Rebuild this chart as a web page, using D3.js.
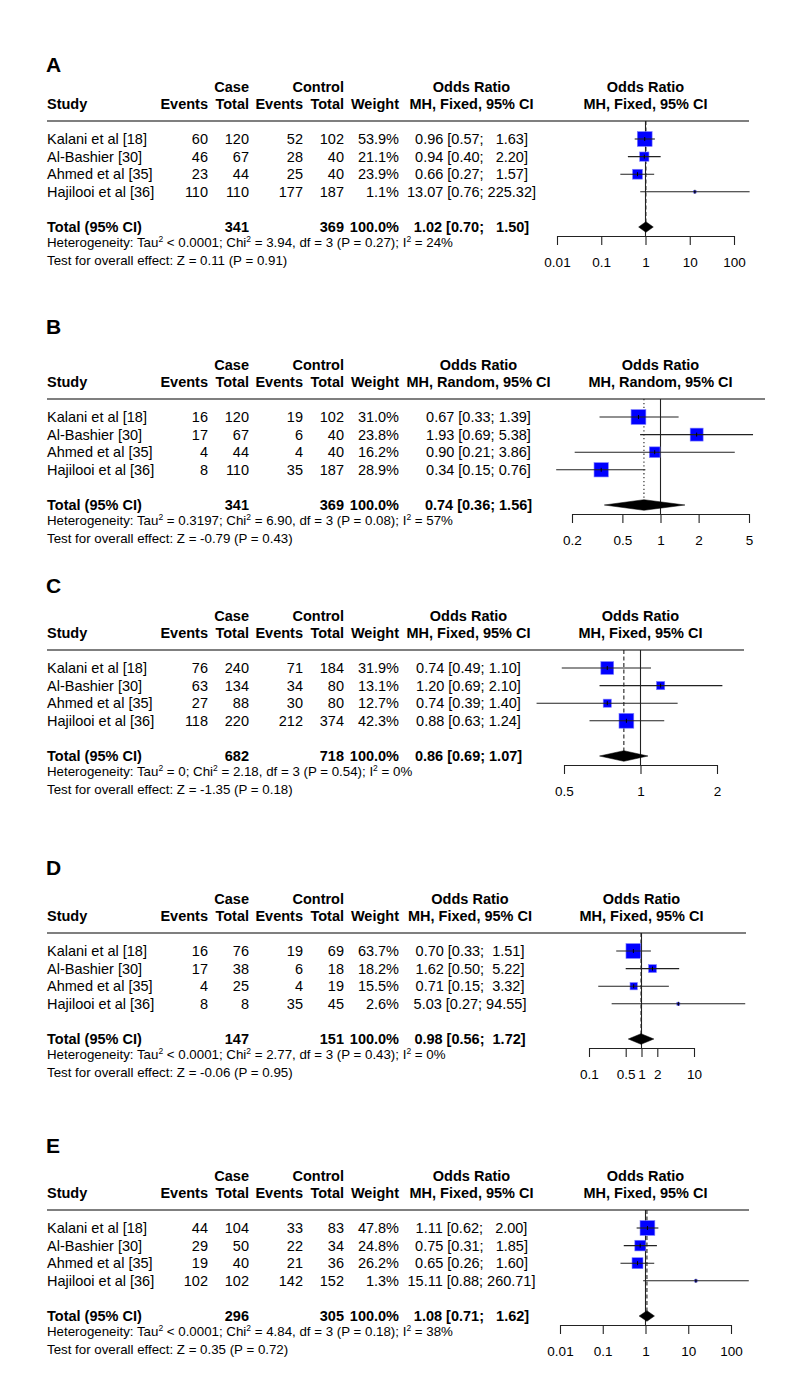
<!DOCTYPE html>
<html>
<head>
<meta charset="utf-8">
<script src="https://cdn.jsdelivr.net/npm/d3@7"></script>
<style>
  html, body { margin: 0; padding: 0; background: #fff; }
  svg text { font-family: "Liberation Sans", Arial, Helvetica, sans-serif; white-space: pre; }
</style>
</head>
<body>
<svg id="chart" width="800" height="1396"></svg>
<script>
// ---------------- DATA ----------------
const studies = ["Kalani et al [18]", "Al-Bashier [30]", "Ahmed et al [35]", "Hajilooi et al [36]"];
const panels = ["A", "B", "C", "D", "E"];
const models = ["Fixed", "Random", "Fixed", "Fixed", "Fixed"];
const caseEvents = [[60, 46, 23, 110], [16, 17, 4, 8], [76, 63, 27, 118], [16, 17, 4, 8], [44, 29, 19, 102]];
const caseTotal  = [[120, 67, 44, 110], [120, 67, 44, 110], [240, 134, 88, 220], [76, 38, 25, 8], [104, 50, 40, 102]];
const ctrlEvents = [[52, 28, 25, 177], [19, 6, 4, 35], [71, 34, 30, 212], [19, 6, 4, 35], [33, 22, 21, 142]];
const ctrlTotal  = [[102, 40, 40, 187], [102, 40, 40, 187], [184, 80, 80, 374], [69, 18, 19, 45], [83, 34, 36, 152]];
const weights    = [[53.9, 21.1, 23.9, 1.1], [31.0, 23.8, 16.2, 28.9], [31.9, 13.1, 12.7, 42.3], [63.7, 18.2, 15.5, 2.6], [47.8, 24.8, 26.2, 1.3]];
const orEst  = [[0.96, 0.94, 0.66, 13.07], [0.67, 1.93, 0.90, 0.34], [0.74, 1.20, 0.74, 0.88], [0.70, 1.62, 0.71, 5.03], [1.11, 0.75, 0.65, 15.11]];
const orLow  = [[0.57, 0.40, 0.27, 0.76], [0.33, 0.69, 0.21, 0.15], [0.49, 0.69, 0.39, 0.63], [0.33, 0.50, 0.15, 0.27], [0.62, 0.31, 0.26, 0.88]];
const orHigh = [[1.63, 2.20, 1.57, 225.32], [1.39, 5.38, 3.86, 0.76], [1.10, 2.10, 1.40, 1.24], [1.51, 5.22, 3.32, 94.55], [2.00, 1.85, 1.60, 260.71]];
const totalCase = [341, 341, 682, 147, 296];
const totalCtrl = [369, 369, 718, 151, 305];
const pooledOR   = [1.02, 0.74, 0.86, 0.98, 1.08];
const pooledLow  = [0.70, 0.36, 0.69, 0.56, 0.71];
const pooledHigh = [1.50, 1.56, 1.07, 1.72, 1.62];
const tau2 = ["< 0.0001", "= 0.3197", "= 0", "< 0.0001", "< 0.0001"];
const chi2 = ["3.94", "6.90", "2.18", "2.77", "4.84"];
const hetP = ["0.27", "0.08", "0.54", "0.43", "0.18"];
const i2   = ["24%", "57%", "0%", "0%", "38%"];
const zVal = ["0.11", "-0.79", "-1.35", "-0.06", "0.35"];
const zP   = ["0.91", "0.43", "0.18", "0.95", "0.72"];
const axisTicks  = [[0.01, 0.1, 1, 10, 100], [0.2, 0.5, 1, 2, 5], [0.5, 1, 2], [0.1, 0.5, 1, 2, 10], [0.01, 0.1, 1, 10, 100]];
const axisLabels = [["0.01", "0.1", "1", "10", "100"], ["0.2", "0.5", "1", "2", "5"], ["0.5", "1", "2"], ["0.1", "0.5", "1", "2", "10"], ["0.01", "0.1", "1", "10", "100"]];

// ---------------- LAYOUT ----------------
const sepY    = [121, 399, 650, 933, 1210];
const letterY = [72, 334, 593, 875, 1153];
const plotRange = [[557, 734], [572, 749], [564, 717], [589, 694], [560, 731]];
const sepEnd  = [749, 765, 744, 746, 749];
const ciCenter = [471.5, 478.5, 468.5, 470, 471.5];
const leftX = 47;
const colEvC = 208, colTotC = 249, colEvK = 303, colTotK = 344, colW = 399;
const rowStep = 17.6;
const maxSq = 14.8;
const fsTable = 14.5, fsHet = 13.3;

const svg = d3.select("#chart");
svg.append("rect").attr("width", 800).attr("height", 1396).attr("fill", "#fff");

function txt(g, x, y, s, anchor, opts = {}) {
  return g.append("text")
    .attr("x", x).attr("y", y)
    .attr("text-anchor", anchor)
    .attr("font-size", opts.size || fsTable)
    .attr("font-weight", opts.bold ? "bold" : "normal")
    .attr("fill", "#000")
    .text(s);
}

panels.forEach((letter, p) => {
  const g = svg.append("g");
  const sep = sepY[p];
  const x = d3.scaleLog().domain([axisTicks[p][0], axisTicks[p][axisTicks[p].length - 1]]).range(plotRange[p]);
  const plotMid = (plotRange[p][0] + plotRange[p][1]) / 2;

  // panel letter
  g.append("text").attr("x", 46).attr("y", letterY[p])
    .attr("font-family", "Lato, 'Open Sans', sans-serif")
    .attr("font-size", 21).attr("font-weight", "bold").text(letter);

  // headers
  const h1 = sep - 29, h2 = sep - 12;
  txt(g, colTotC, h1, "Case", "end", { bold: true });
  txt(g, colTotK, h1, "Control", "end", { bold: true });
  txt(g, ciCenter[p], h1, "Odds Ratio", "middle", { bold: true });
  txt(g, plotMid, h1, "Odds Ratio", "middle", { bold: true });
  txt(g, leftX, h2, "Study", "start", { bold: true });
  txt(g, colEvC, h2, "Events", "end", { bold: true });
  txt(g, colTotC, h2, "Total", "end", { bold: true });
  txt(g, colEvK, h2, "Events", "end", { bold: true });
  txt(g, colTotK, h2, "Total", "end", { bold: true });
  txt(g, colW, h2, "Weight", "end", { bold: true });
  txt(g, ciCenter[p], h2, "MH, " + models[p] + ", 95% CI", "middle", { bold: true });
  txt(g, plotMid, h2, "MH, " + models[p] + ", 95% CI", "middle", { bold: true });

  // separator
  g.append("line").attr("x1", leftX).attr("x2", sepEnd[p]).attr("y1", sep).attr("y2", sep)
    .attr("stroke", "#555").attr("stroke-width", 1.4);

  // CI strings
  const allHigh = orHigh[p].concat([pooledHigh[p]]).map(v => v.toFixed(2));
  const maxLen = d3.max(allHigh, s => s.length);
  const ciStr = (e, l, h) => {
    const hs = h.toFixed(2);
    return e.toFixed(2) + " [" + l.toFixed(2) + ";" + " ".repeat(maxLen - hs.length + 1) + hs + "]";
  };

  const rowY = i => sep + 18 + i * rowStep;
  const totY = sep + 106;
  const axisY = sep + 115;
  const wmax = d3.max(weights[p]);

  // reference lines
  g.append("line").attr("x1", x(1)).attr("x2", x(1)).attr("y1", sep).attr("y2", axisY)
    .attr("stroke", "#222").attr("stroke-width", 1.1);
  g.append("line").attr("x1", x(pooledOR[p])).attr("x2", x(pooledOR[p])).attr("y1", sep).attr("y2", totY - 5)
    .attr("stroke", "#222").attr("stroke-width", 1.1)
    .attr("stroke-dasharray", models[p] === "Random" ? "1.3,2.6" : "4,2.5");

  studies.forEach((s, i) => {
    const yc = rowY(i), yb = yc + 5;
    txt(g, leftX, yb, s, "start");
    txt(g, colEvC, yb, String(caseEvents[p][i]), "end");
    txt(g, colTotC, yb, String(caseTotal[p][i]), "end");
    txt(g, colEvK, yb, String(ctrlEvents[p][i]), "end");
    txt(g, colTotK, yb, String(ctrlTotal[p][i]), "end");
    txt(g, colW, yb, weights[p][i].toFixed(1) + "%", "end");
    txt(g, ciCenter[p], yb, ciStr(orEst[p][i], orLow[p][i], orHigh[p][i]), "middle");

    // square
    const side = Math.max(2.5, maxSq * Math.sqrt(weights[p][i] / wmax));
    const cx = x(orEst[p][i]);
    g.append("rect").attr("x", cx - side / 2).attr("y", yc - side / 2)
      .attr("width", side).attr("height", side)
      .attr("fill", "#0000ff").attr("stroke", "#7f7fff").attr("stroke-width", 0.6);
    // CI line
    g.append("line").attr("x1", x(orLow[p][i])).attr("x2", x(orHigh[p][i])).attr("y1", yc).attr("y2", yc)
      .attr("stroke", "#222").attr("stroke-width", 1.1);
    // point tick
    g.append("line").attr("x1", cx).attr("x2", cx).attr("y1", yc - 2).attr("y2", yc + 2)
      .attr("stroke", "#000").attr("stroke-width", 1);
  });

  // total row
  const tb = totY + 5;
  txt(g, leftX, tb, "Total (95% CI)", "start", { bold: true });
  txt(g, colTotC, tb, String(totalCase[p]), "end", { bold: true });
  txt(g, colTotK, tb, String(totalCtrl[p]), "end", { bold: true });
  txt(g, colW, tb, "100.0%", "end", { bold: true });
  txt(g, ciCenter[p], tb, ciStr(pooledOR[p], pooledLow[p], pooledHigh[p]), "middle", { bold: true });

  // diamond
  const dh = 5.3;
  const pts = [[x(pooledLow[p]), totY], [x(pooledOR[p]), totY - dh], [x(pooledHigh[p]), totY], [x(pooledOR[p]), totY + dh]];
  g.append("path").attr("d", d3.line()(pts) + "Z").attr("fill", "#000").attr("stroke", "#000").attr("stroke-width", 0.5);

  // heterogeneity
  const hy = sep + 126;
  const het = g.append("text").attr("x", leftX).attr("y", hy).attr("font-size", fsHet).attr("fill", "#000");
  const sup = (t) => { het.append("tspan").attr("dy", -5).attr("font-size", 8.5).text("2"); het.append("tspan").attr("dy", 5).text(t); };
  het.append("tspan").text("Heterogeneity: Tau");
  sup(" " + tau2[p] + "; Chi");
  sup(" = " + chi2[p] + ", df = 3 (P = " + hetP[p] + "); I");
  sup(" = " + i2[p]);
  g.append("text").attr("x", leftX).attr("y", hy + 17.5).attr("font-size", fsHet).attr("fill", "#000")
    .text("Test for overall effect: Z = " + zVal[p] + " (P = " + zP[p] + ")");

  // axis
  const ax = d3.axisBottom(x).tickValues(axisTicks[p]).tickSize(9).tickSizeOuter(0)
    .tickFormat((d, i) => axisLabels[p][i]);
  const ag = g.append("g").attr("transform", `translate(0,${axisY})`).call(ax);
  ag.select(".domain").attr("stroke", "#222").attr("stroke-width", 1.1);
  ag.selectAll(".tick line").attr("stroke", "#222").attr("stroke-width", 1.1);
  ag.selectAll(".tick text").attr("font-size", 13.5).attr("fill", "#000")
    .attr("font-family", "'Liberation Sans', Arial, sans-serif")
    .attr("dy", 0).attr("y", 31);
});
</script>
</body>
</html>
